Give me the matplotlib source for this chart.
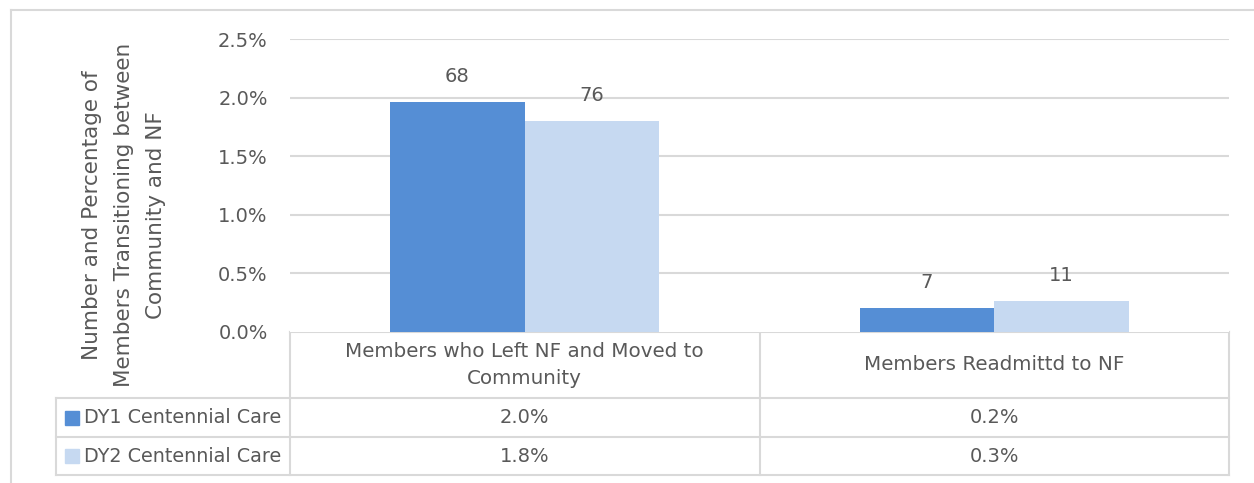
import matplotlib
matplotlib.use("Agg")
import matplotlib.pyplot as plt
from matplotlib.patches import Rectangle

# ---- data ----
categories = ["Members who Left NF and Moved to\nCommunity", "Members Readmittd to NF"]
series_names = ["DY1 Centennial Care", "DY2 Centennial Care"]
dy1_pct = [1.96, 0.20]
dy2_pct = [1.80, 0.26]
dy1_count = [68, 7]
dy2_count = [76, 11]
yticks = [0.0, 0.5, 1.0, 1.5, 2.0, 2.5]

# ---- style ----
C1 = "#558ED5"
C2 = "#C6D9F1"
GRID = "#D9D9D9"
TXT = "#595959"
FONT = "DejaVu Sans"
plt.rcParams["font.family"] = [FONT]

W, H = 1254, 483
fig = plt.figure(figsize=(W / 100, H / 100), dpi=100)
fig.patch.set_facecolor("white")

# layout in pixels
L, R = 290, 1229
Y0, Ytop = 331.7, 39.3
ax = fig.add_axes([L / W, (H - Y0) / H, (R - L) / W, (Y0 - Ytop) / H])
ax.set_xlim(-0.5, 1.5)
ax.set_ylim(0, 2.5)

bw = 0.2865
xs = list(range(len(categories)))
b1 = ax.bar([x - bw / 2 for x in xs], dy1_pct, width=bw, color=C1, zorder=3)
b2 = ax.bar([x + bw / 2 for x in xs], dy2_pct, width=bw, color=C2, zorder=3)
for bars, counts in ((b1, dy1_count), (b2, dy2_count)):
    for rect, c in zip(bars, counts):
        ax.annotate(str(c), (rect.get_x() + rect.get_width() / 2, rect.get_height()),
                    xytext=(0, 14.5), textcoords="offset points", ha="center",
                    va="baseline", fontsize=14, color=TXT)

ax.set_yticks(yticks)
ax.set_yticklabels([f"{t:.1f}%" for t in yticks], fontsize=14, color=TXT)
ax.tick_params(axis="y", length=0, pad=16)
ax.set_xticks([])
for s in ax.spines.values():
    s.set_visible(False)
for t in yticks[1:]:
    ax.axhline(t, color=GRID, lw=1.5, zorder=1)

# y label
fig.text(124 / W, 1 - 215 / H,
         "Number and Percentage of\nMembers Transitioning between\nCommunity and NF",
         rotation=90, ha="center", va="center", fontsize=15.5, color=TXT,
         linespacing=1.72, multialignment="center")

# overlay for table & frame (pixel coords)
ov = fig.add_axes([0, 0, 1, 1], zorder=-1)
ov.set_xlim(0, W)
ov.set_ylim(H, 0)
ov.axis("off")
ov.patch.set_alpha(0)

lw = 1.5
# outer frame
ov.plot([11, W + 10], [10, 10], color=GRID, lw=lw, clip_on=False)
ov.plot([11, 11], [10, H + 10], color=GRID, lw=lw, clip_on=False)

r1, r2, r3 = 398, 437, 475
LL = 56
mid = (L + R) / 2
ov.plot([L, R], [Y0, Y0], color=GRID, lw=lw)
for y in (r1, r2, r3):
    ov.plot([LL, R], [y, y], color=GRID, lw=lw)
for x in (L, mid, R):
    ov.plot([x, x], [Y0, r3], color=GRID, lw=lw)
ov.plot([LL, LL], [r1, r3], color=GRID, lw=lw)

centers = [L + (R - L) / 4, L + 3 * (R - L) / 4]
for cx, cat in zip(centers, categories):
    ov.text(cx, (Y0 + r1) / 2, cat, ha="center", va="center", fontsize=14.3,
            color=TXT, linespacing=1.5)

rows = [(r1, r2, dy1_pct, C1, series_names[0]), (r2, r3, dy2_pct, C2, series_names[1])]
for ya, yb, vals, col, name in rows:
    yc = (ya + yb) / 2
    ov.add_patch(Rectangle((65, yc - 7), 14, 14, color=col))
    ov.text(84, yc, name, ha="left", va="center", fontsize=13.8, color=TXT)
    for cx, v in zip(centers, vals):
        ov.text(cx, yc, f"{v:.1f}%", ha="center", va="center", fontsize=14, color=TXT)

fig.savefig("out.png", dpi=100, facecolor="white")
